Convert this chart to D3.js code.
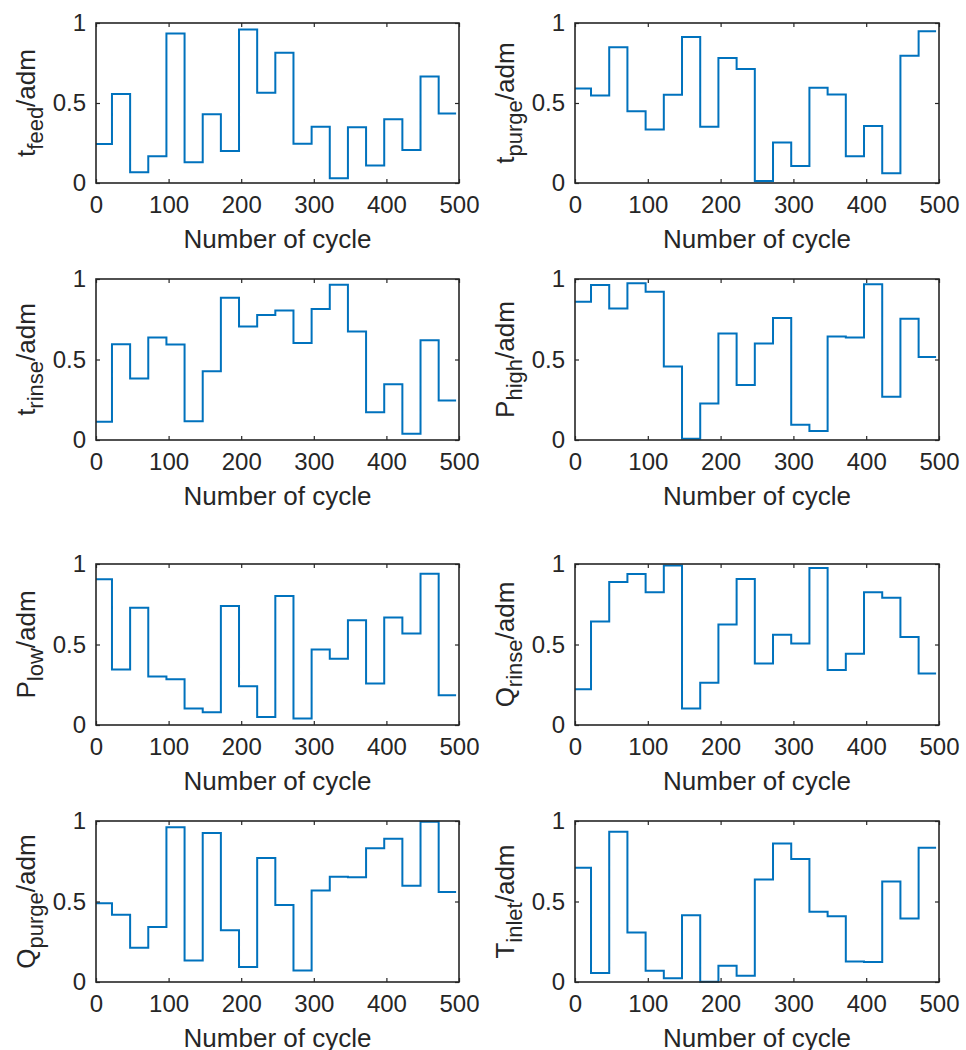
<!DOCTYPE html>
<html>
<head>
<meta charset="utf-8">
<script src="https://cdn.jsdelivr.net/npm/d3@7"></script>
<style>
  html, body { margin: 0; padding: 0; background: #ffffff; }
  svg { display: block; }
  text { font-family: "Liberation Sans", Arial, Helvetica, sans-serif; fill: #262626; }
</style>
</head>
<body>
<svg id="chart" width="966" height="1050"></svg>
<script>
// Cycle at which each setting level starts, and the last simulated cycle
const stepStarts = [0, 22, 47, 72, 97, 122, 147, 172, 197, 222, 247, 272, 297, 322, 347, 372, 397, 422, 447, 472];
const lastCycle = 496;

// Normalised (dimensionless) operating variables, one level per block of cycles
const tFeed   = [0.244, 0.557, 0.067, 0.167, 0.935, 0.129, 0.430, 0.200, 0.960, 0.564, 0.814, 0.246, 0.351, 0.029, 0.349, 0.109, 0.399, 0.207, 0.666, 0.434];
const tPurge  = [0.591, 0.547, 0.848, 0.449, 0.334, 0.551, 0.912, 0.351, 0.781, 0.712, 0.013, 0.253, 0.106, 0.595, 0.553, 0.167, 0.357, 0.061, 0.795, 0.948];
const tRinse  = [0.114, 0.595, 0.382, 0.637, 0.593, 0.116, 0.427, 0.884, 0.705, 0.776, 0.805, 0.602, 0.813, 0.965, 0.674, 0.172, 0.346, 0.039, 0.620, 0.245];
const pHigh   = [0.859, 0.963, 0.817, 0.973, 0.921, 0.456, 0.008, 0.226, 0.662, 0.342, 0.600, 0.757, 0.095, 0.056, 0.643, 0.637, 0.967, 0.268, 0.753, 0.515];
const pLow    = [0.905, 0.344, 0.728, 0.301, 0.284, 0.102, 0.079, 0.739, 0.241, 0.050, 0.801, 0.041, 0.469, 0.411, 0.651, 0.257, 0.668, 0.568, 0.940, 0.185];
const qRinse  = [0.222, 0.643, 0.888, 0.938, 0.824, 0.990, 0.102, 0.263, 0.624, 0.907, 0.382, 0.560, 0.506, 0.975, 0.342, 0.442, 0.824, 0.790, 0.546, 0.320];
const qPurge  = [0.489, 0.418, 0.213, 0.342, 0.961, 0.133, 0.925, 0.321, 0.093, 0.770, 0.478, 0.072, 0.569, 0.654, 0.650, 0.830, 0.890, 0.598, 0.996, 0.559];
const tInlet  = [0.710, 0.056, 0.934, 0.308, 0.070, 0.023, 0.414, 0.002, 0.101, 0.039, 0.636, 0.861, 0.764, 0.437, 0.408, 0.128, 0.124, 0.625, 0.395, 0.834];

// Axis labels: symbol, subscript, unit
const labelSymbols = ["t", "t", "t", "P", "P", "Q", "Q", "T"];
const labelSubs    = ["feed", "purge", "rinse", "high", "low", "rinse", "purge", "inlet"];
const labelUnit    = "/adm";
const xLabel       = "Number of cycle";
const xTicks       = [0, 100, 200, 300, 400, 500];
const yTicks       = [0, 0.5, 1];
const yTickText    = ["0", "0.5", "1"];

const seriesList = [tFeed, tPurge, tRinse, pHigh, pLow, qRinse, qPurge, tInlet];

// Panel grid geometry
const colX = [[96, 459], [575, 939]];
const rowY = [[23, 183], [279, 440], [564, 725], [821, 982]];

const axisColor = "#262626";
const lineColor = "#0072BD";
const tickLen = 4;

const svg = d3.select("#chart");

seriesList.forEach((values, i) => {
  const col = i % 2, row = Math.floor(i / 2);
  const [x0, x1] = colX[col];
  const [y0, y1] = rowY[row];

  const x = d3.scaleLinear().domain([0, 500]).range([x0, x1]);
  const y = d3.scaleLinear().domain([0, 1]).range([y1, y0]);

  const g = svg.append("g").attr("class", "panel");

  // Step profile of the variable
  const pts = values.map((v, k) => [stepStarts[k], v]);
  pts.push([lastCycle, values[values.length - 1]]);
  const line = d3.line().x(d => x(d[0])).y(d => y(d[1])).curve(d3.curveStepAfter);
  g.append("path")
    .attr("d", line(pts))
    .attr("fill", "none")
    .attr("stroke", lineColor)
    .attr("stroke-width", 2)
    .attr("stroke-linejoin", "miter");

  // Axes with inward ticks on all four sides
  const bottom = d3.axisBottom(x).tickValues(xTicks).tickSizeInner(-tickLen).tickSizeOuter(0).tickFormat(d3.format("d")).tickPadding(13);
  const top = d3.axisTop(x).tickValues(xTicks).tickSizeInner(-tickLen).tickSizeOuter(0).tickFormat("");
  const left = d3.axisLeft(y).tickValues(yTicks).tickSizeInner(-tickLen).tickSizeOuter(0)
    .tickFormat((d, k) => yTickText[k]).tickPadding(10);
  const right = d3.axisRight(y).tickValues(yTicks).tickSizeInner(-tickLen).tickSizeOuter(0).tickFormat("");

  const gb = g.append("g").attr("transform", `translate(0,${y1})`).call(bottom);
  const gt = g.append("g").attr("transform", `translate(0,${y0})`).call(top);
  const gl = g.append("g").attr("transform", `translate(${x0},0)`).call(left);
  const gr = g.append("g").attr("transform", `translate(${x1},0)`).call(right);

  [gb, gt, gl, gr].forEach(a => {
    a.select(".domain").remove();
    a.selectAll(".tick line").attr("stroke", axisColor).attr("stroke-width", 1.2);
    a.selectAll(".tick text").attr("fill", axisColor).style("font-size", "24px")
      .style("font-family", "'Liberation Sans', Arial, sans-serif");
  });

  // Box
  g.append("rect")
    .attr("x", x0).attr("y", y0)
    .attr("width", x1 - x0).attr("height", y1 - y0)
    .attr("fill", "none")
    .attr("stroke", axisColor)
    .attr("stroke-width", 1.6);

  // x label
  g.append("text")
    .attr("x", (x0 + x1) / 2)
    .attr("y", y1 + 65)
    .attr("text-anchor", "middle")
    .style("font-size", "26px")
    .text(xLabel);

  // y label with subscript
  const yl = g.append("text")
    .attr("transform", `translate(${x0 - 61},${(y0 + y1) / 2}) rotate(-90)`)
    .attr("text-anchor", "middle")
    .style("font-size", "26px");
  yl.append("tspan").text(labelSymbols[i]);
  yl.append("tspan").attr("dy", 8).style("font-size", "22px").text(labelSubs[i]);
  yl.append("tspan").attr("dy", -8).text(labelUnit);
});
</script>
</body>
</html>
